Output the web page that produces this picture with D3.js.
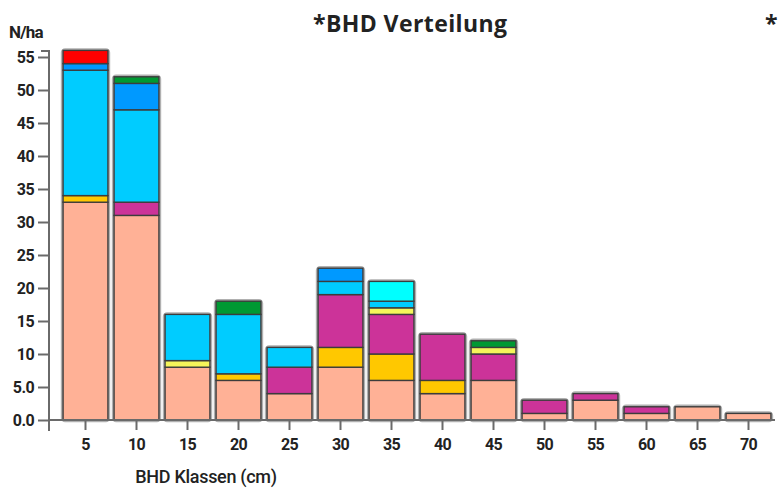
<!DOCTYPE html>
<html>
<head>
<meta charset="utf-8">
<script src="https://cdn.jsdelivr.net/npm/d3@7"></script>
<style>
  body { margin: 0; background: #fff; }
  svg { display: block; }
</style>
</head>
<body>
<svg id="vis" width="782" height="489"></svg>
<script>
const svg = d3.select('#vis');
const width = +svg.attr('width');
const height = +svg.attr('height');

// BHD classes (cm)
const classes = ['5', '10', '15', '20', '25', '30', '35', '40', '45', '50', '55', '60', '65', '70'];

// stacked series, bottom to top (N/ha per class)
const seriesNames = ['Art1', 'Art2', 'Art3', 'Art4', 'Art5', 'Art6', 'Art7', 'Art8', 'Art9'];
const art1 = [33, 31, 8, 6, 4, 8, 6, 4, 6, 1, 3, 1, 2, 1];
const art2 = [1, 0, 0, 1, 0, 3, 4, 2, 0, 0, 0, 0, 0, 0];
const art3 = [0, 2, 0, 0, 4, 8, 6, 7, 4, 2, 1, 1, 0, 0];
const art4 = [0, 0, 1, 0, 0, 0, 1, 0, 1, 0, 0, 0, 0, 0];
const art5 = [19, 14, 7, 9, 3, 2, 1, 0, 0, 0, 0, 0, 0, 0];
const art6 = [0, 0, 0, 0, 0, 0, 3, 0, 0, 0, 0, 0, 0, 0];
const art7 = [1, 4, 0, 0, 0, 2, 0, 0, 0, 0, 0, 0, 0, 0];
const art8 = [0, 1, 0, 2, 0, 0, 0, 0, 1, 0, 0, 0, 0, 0];
const art9 = [2, 0, 0, 0, 0, 0, 0, 0, 0, 0, 0, 0, 0, 0];
const seriesColors = ['#ffb196', '#ffc800', '#cc3399', '#f5f55a', '#00ccff', '#00ffff', '#0099ff', '#009933', '#ff0000'];

const yTicks = [0, 5, 10, 15, 20, 25, 30, 35, 40, 45, 50, 55];
const yTickLabels = ['0.0', '5.0', '10', '15', '20', '25', '30', '35', '40', '45', '50', '55'];

const seriesValues = [art1, art2, art3, art4, art5, art6, art7, art8, art9];
const table = classes.map((c, i) => {
  const row = { cls: c };
  seriesNames.forEach((s, j) => { row[s] = seriesValues[j][i]; });
  return row;
});

const stacked = d3.stack().keys(seriesNames)(table);

const x = d3.scaleBand()
  .domain(classes)
  .range([60, 774])
  .paddingInner(0.12)
  .paddingOuter(0.06);

const y = d3.scaleLinear()
  .domain([0, 55])
  .range([420, 57]);

const color = d3.scaleOrdinal().domain(seriesNames).range(seriesColors);

const axisFont = 'Roboto, "DejaVu Sans", sans-serif';

// Bar halo (soft gray outline around each whole stack)
svg.append('g')
  .selectAll('rect')
  .data(table)
  .join('rect')
  .attr('x', d => x(d.cls))
  .attr('y', d => y(d3.sum(seriesNames, s => d[s])))
  .attr('width', x.bandwidth())
  .attr('height', d => y(0) - y(d3.sum(seriesNames, s => d[s])))
  .attr('rx', 2)
  .attr('fill', 'none')
  .attr('stroke', '#b0b0b0')
  .attr('stroke-width', 4.5);

// Stacked segments
svg.append('g')
  .selectAll('g')
  .data(stacked)
  .join('g')
  .attr('fill', d => color(d.key))
  .selectAll('rect')
  .data(d => d.filter(p => p[1] > p[0]))
  .join('rect')
  .attr('x', d => x(d.data.cls))
  .attr('y', d => y(d[1]))
  .attr('width', x.bandwidth())
  .attr('height', d => y(d[0]) - y(d[1]))
  .attr('stroke', '#3c3c3c')
  .attr('stroke-width', 1.4);

// Y axis
const yAxis = svg.append('g')
  .attr('transform', 'translate(49,0)')
  .call(d3.axisLeft(y).tickValues(yTicks).tickFormat((d, i) => yTickLabels[i]).tickSize(11).tickPadding(4));
yAxis.select('.domain')
  .attr('d', `M-8,${y(55.9)}H0V${y(0) + 11}`);

// X axis
const xAxis = svg.append('g')
  .attr('transform', `translate(0,${y(0)})`)
  .call(d3.axisBottom(x).tickSize(10).tickPadding(9));
xAxis.select('.domain')
  .attr('d', 'M49,0H775');

svg.selectAll('.domain, .tick line')
  .attr('stroke', '#6a6a6a')
  .attr('stroke-width', 2);
svg.selectAll('.tick text')
  .attr('fill', '#222')
  .style('font-family', axisFont)
  .style('font-size', '16px')
  .style('font-weight', '700')
  .style('letter-spacing', '-0.6px');

// Axis titles
svg.append('text')
  .attr('x', 9)
  .attr('y', 38)
  .text('N/ha')
  .style('font-family', axisFont)
  .style('font-size', '17px')
  .style('font-weight', '700')
  .style('letter-spacing', '-0.8px')
  .attr('fill', '#222');

svg.append('text')
  .attr('x', 206)
  .attr('y', 483)
  .attr('text-anchor', 'middle')
  .text('BHD Klassen (cm)')
  .style('font-family', axisFont)
  .style('font-size', '18px')
  .style('font-weight', '500')
  .style('letter-spacing', '-0.3px')
  .attr('fill', '#222');

// Title
svg.append('text')
  .attr('x', 313)
  .attr('y', 32)
  .text('*BHD Verteilung')
  .style('font-family', '"Open Sans", sans-serif')
  .style('font-size', '23px')
  .style('font-weight', '700')
  .style('letter-spacing', '0.4px')
  .attr('fill', '#222');

svg.append('text')
  .attr('x', 765)
  .attr('y', 32)
  .text('*')
  .style('font-family', '"Open Sans", sans-serif')
  .style('font-size', '23px')
  .style('font-weight', '700')
  .attr('fill', '#222');
</script>
</body>
</html>
